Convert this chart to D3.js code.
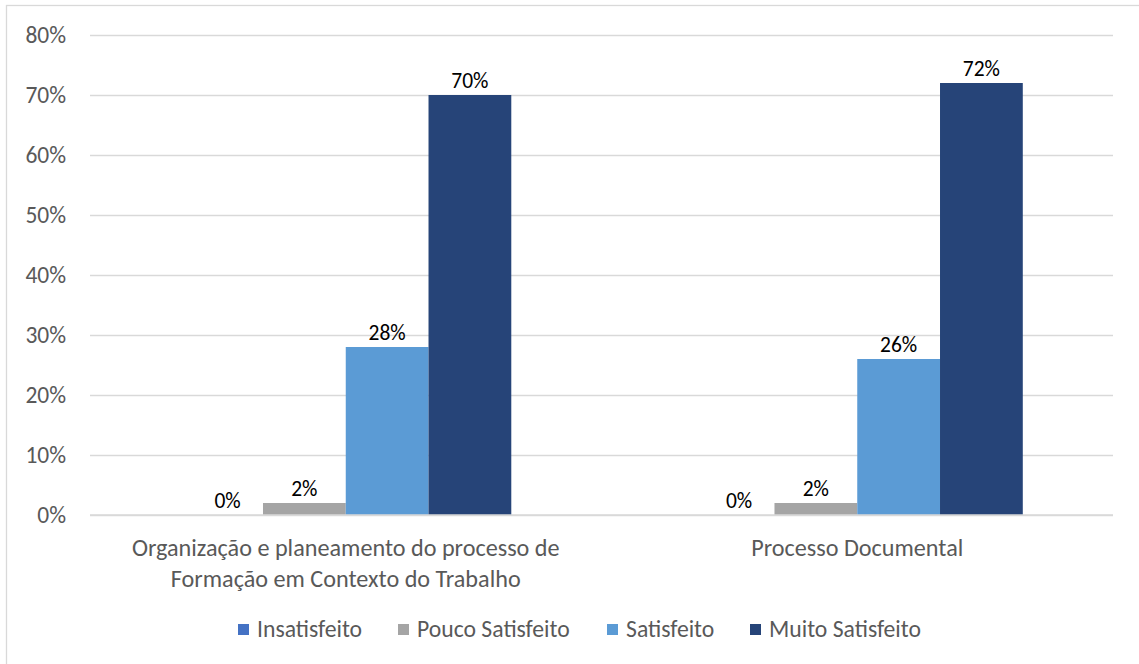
<!DOCTYPE html>
<html>
<head>
<meta charset="utf-8">
<script src="https://cdn.jsdelivr.net/npm/d3@7"></script>
<style>
  html, body { margin: 0; padding: 0; background: #fff; }
  svg text { font-family: Carlito, Calibri, Lato, "Open Sans", sans-serif; }
</style>
</head>
<body>
<svg id="chart" width="1139" height="664"></svg>
<script>
const categories = [
  ["Organização e planeamento do processo de", "Formação em Contexto do Trabalho"],
  ["Processo Documental"]
];
const seriesNames = ["Insatisfeito", "Pouco Satisfeito", "Satisfeito", "Muito Satisfeito"];
const seriesColors = ["#4472C4", "#A5A5A5", "#5B9BD5", "#264478"];
const values = [
  [0, 0],    // Insatisfeito
  [2, 2],    // Pouco Satisfeito
  [28, 26],  // Satisfeito
  [70, 72]   // Muito Satisfeito
];
const yTicks = [0, 10, 20, 30, 40, 50, 60, 70, 80];

(function () {
const svg = d3.select("#chart");
const W = 1139, H = 664;
const mLeft = 90, mRight = 1113, mTop = 35, mBottom = 515;

svg.append("rect").attr("x", 6.5).attr("y", 5.5).attr("width", W + 10).attr("height", H + 10)
  .attr("fill", "#fff").attr("stroke", "#d9d9d9").attr("stroke-width", 1.3);

const y = d3.scaleLinear().domain([0, 80]).range([mBottom, mTop]);
const x0 = d3.scaleBand().domain(d3.range(categories.length)).range([mLeft, mRight]).paddingInner(0).paddingOuter(0);
const x1 = d3.scaleBand().domain(d3.range(seriesNames.length)).range([0, x0.bandwidth()]).paddingOuter(1.09).paddingInner(0);

const yAxis = d3.axisLeft(y).tickValues(yTicks).tickSize(-(mRight - mLeft)).tickFormat(d => d + "%").tickPadding(24);
const gAxis = svg.append("g").attr("transform", `translate(${mLeft},0)`).call(yAxis);
gAxis.select(".domain").remove();
gAxis.selectAll(".tick line").attr("stroke", "#d9d9d9").attr("stroke-width", 1.3);
gAxis.selectAll(".tick text").attr("fill", "#595959").style("font-size", "23.5px")
  .style("font-family", "Carlito, Calibri, Lato, sans-serif");

const groups = svg.append("g").selectAll("g").data(categories).join("g")
  .attr("transform", (d, i) => `translate(${x0(i)},0)`);

seriesNames.forEach((s, si) => {
  groups.append("rect")
    .attr("x", x1(si))
    .attr("y", (d, ci) => y(values[si][ci]))
    .attr("width", x1.bandwidth())
    .attr("height", (d, ci) => mBottom - y(values[si][ci]))
    .attr("fill", seriesColors[si]);
  groups.append("text")
    .attr("x", x1(si) + x1.bandwidth() / 2 + (si === 0 ? 6 : 0))
    .attr("y", (d, ci) => y(values[si][ci]) - 7)
    .attr("text-anchor", "middle")
    .attr("fill", "#000")
    .style("font-size", "21.5px")
    .text((d, ci) => values[si][ci] + "%");
});

svg.append("line").attr("x1", mLeft).attr("x2", mRight).attr("y1", mBottom).attr("y2", mBottom)
  .attr("stroke", "#d9d9d9").attr("stroke-width", 1.3);

categories.forEach((lines, ci) => {
  const cx = x0(ci) + x0.bandwidth() / 2;
  const t = svg.append("text").attr("text-anchor", "middle").attr("fill", "#595959").style("font-size", "24.2px");
  lines.forEach((ln, li) => {
    t.append("tspan").attr("x", cx).attr("y", 556 + li * 31).text(ln);
  });
});

const legendX = [238, 398, 607, 750];
seriesNames.forEach((s, si) => {
  svg.append("rect").attr("x", legendX[si]).attr("y", 624).attr("width", 11).attr("height", 11).attr("fill", seriesColors[si]);
  svg.append("text").attr("x", legendX[si] + 19).attr("y", 637).attr("fill", "#595959")
    .style("font-size", "23.7px").text(s);
});
})();
</script>
</body>
</html>
